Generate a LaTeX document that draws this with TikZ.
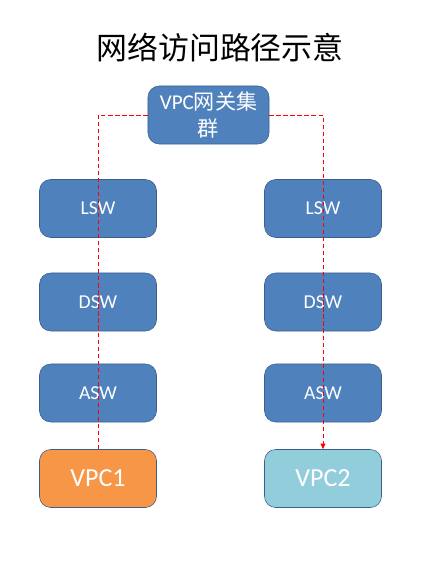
\documentclass[tikz,border=0pt]{standalone}
\usepackage{fontspec}
\setmainfont{Carlito}
\newfontfamily\cjk{Noto Sans CJK SC}
\usetikzlibrary{arrows.meta}
\definecolor{boxblue}{HTML}{4F81BD}
\definecolor{boxline}{HTML}{3A5F8E}
\definecolor{vpcorange}{HTML}{F79646}
\definecolor{vpccyan}{HTML}{92CDDC}
\tikzstyle{switch} = [rectangle, rounded corners=8pt, minimum width=2.925cm, minimum height=1.45cm, text centered, draw=boxline, fill=boxblue, text=white, font=\fontsize{14}{17}\selectfont]
\tikzstyle{gateway} = [switch, minimum width=3.025cm, align=center, font=\fontsize{15}{19}\selectfont]
\tikzstyle{vpc} = [switch, font=\fontsize{18.5}{22}\selectfont]
\tikzstyle{path} = [red, densely dashed, line width=0.6pt]

\begin{document}
\begin{tikzpicture}[x=0.025cm, y=-0.025cm]
    \useasboundingbox (0,0) rectangle (441,564);
    \node (title) at (220,48) {\cjk\fontsize{22}{26}\selectfont 网络访问路径示意};

    \node (gw) [gateway] at (208.5,115) {VPC{\cjk 网关集}\\{\cjk 群}};

    % left path
    \node (lsw1) [switch] at (98,208.5) {LSW};
    \node (dsw1) [switch] at (98,302) {DSW};
    \node (asw1) [switch] at (98,393) {ASW};
    \node (vpc1) [vpc, fill=vpcorange] at (98,478.5) {VPC1};

    % right path
    \node (lsw2) [switch] at (323,208.5) {LSW};
    \node (dsw2) [switch] at (323,302) {DSW};
    \node (asw2) [switch] at (323,393) {ASW};
    \node (vpc2) [vpc, fill=vpccyan] at (323,478.5) {VPC2};

    \draw [path] (vpc1.north) |- (gw.west);
    \draw [path, -{Triangle[length=4pt, width=3.5pt]}] (gw.east) -| (vpc2.north);
  \end{tikzpicture}
\end{document}
